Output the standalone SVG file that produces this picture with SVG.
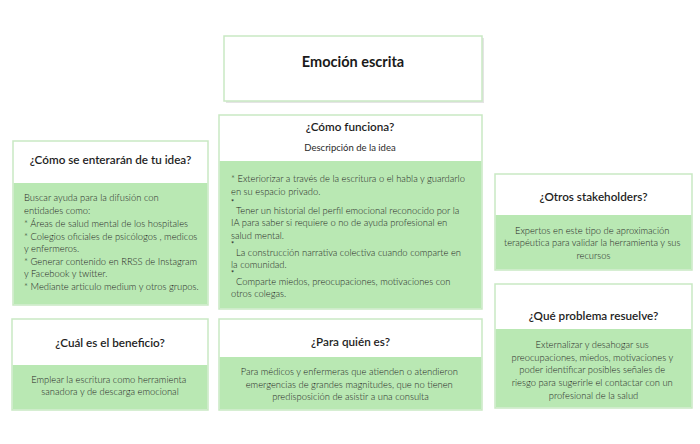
<svg xmlns="http://www.w3.org/2000/svg" width="700" height="444" viewBox="0 0 700 444">
<style>
.box{fill:#ffffff;stroke:#c9e9c3;stroke-width:1.5}
.fill{fill:#b9e8b3}
.hd{font-family:Lato,"Liberation Sans",sans-serif;font-size:11.7px;font-weight:600;fill:#1e1e1e;text-anchor:middle}
.tt{font-family:Lato,"Liberation Sans",sans-serif;font-size:14.5px;font-weight:700;fill:#1a1a1a;text-anchor:middle}
.bd{font-family:Lato,"Liberation Sans",sans-serif;font-size:9.4px;font-weight:300;fill:#262626}
.ast{font-family:Lato,"Liberation Sans",sans-serif;font-size:7.5px;fill:#262626}
.c{text-anchor:middle}
.sub{font-family:Lato,"Liberation Sans",sans-serif;font-size:9.5px;fill:#2a2a2a;text-anchor:middle}
</style>
<rect width="700" height="444" fill="#ffffff"/>
<g id="connectors"/>
<g id="title">
<rect x="226" y="38" width="258" height="65" fill="#e4e4e4"/>
<rect x="224" y="36" width="258" height="65" class="box"/>
<text x="353" y="67" class="tt">Emoción escrita</text>
</g>
<g id="como-funciona">
<rect x="219" y="115" width="263" height="194" class="box"/>
<rect x="219.75" y="161" width="261.5" height="147.25" class="fill"/>
<text x="350" y="131" class="hd">¿Cómo funciona?</text>
<text x="350" y="151" class="sub">Descripción de la idea</text>
<text class="bd">
<tspan x="231" y="182">* Exteriorizar a través de la escritura o el habla y guardarlo</tspan>
<tspan x="231" y="195">en su espacio privado.</tspan>
<tspan x="236" y="214">Tener un historial del perfil emocional reconocido por la</tspan>
<tspan x="231" y="226">IA para saber si requiere o no de ayuda profesional en</tspan>
<tspan x="231" y="239">salud mental.</tspan>
<tspan x="236" y="256">La construcción narrativa colectiva cuando comparte en</tspan>
<tspan x="231" y="268">la comunidad.</tspan>
<tspan x="236" y="285">Comparte miedos, preocupaciones, motivaciones con</tspan>
<tspan x="231" y="297">otros colegas.</tspan>
</text>
<text class="ast">
<tspan x="231" y="205">*</tspan>
<tspan x="231" y="247">*</tspan>
<tspan x="231" y="276">*</tspan>
</text>
</g>
<g id="enteraran">
<rect x="13" y="141" width="195" height="164" class="box"/>
<rect x="13.75" y="183" width="193.5" height="121.25" class="fill"/>
<text x="110.5" y="164" class="hd">¿Cómo se enterarán de tu idea?</text>
<text class="bd">
<tspan x="24" y="201">Buscar ayuda para la difusión con</tspan>
<tspan x="24" y="214">entidades como:</tspan>
<tspan x="24" y="227">* Áreas de salud mental de los hospitales</tspan>
<tspan x="24" y="240">* Colegios oficiales de psicólogos , medicos</tspan>
<tspan x="24" y="252">y enfermeros.</tspan>
<tspan x="24" y="265">* Generar contenido en RRSS de Instagram</tspan>
<tspan x="24" y="277">y Facebook y twitter.</tspan>
<tspan x="24" y="290">* Mediante articulo medium y otros grupos.</tspan>
</text>
</g>
<g id="stakeholders">
<rect x="495" y="174" width="197" height="96" class="box"/>
<rect x="495.75" y="215" width="195.5" height="54.25" class="fill"/>
<text x="593.5" y="201" class="hd">¿Otros stakeholders?</text>
<text class="bd c">
<tspan x="593.5" y="234">Expertos en este tipo de aproximación</tspan>
<tspan x="593.5" y="246">terapéutica para validar la herramienta y sus</tspan>
<tspan x="593.5" y="259">recursos</tspan>
</text>
</g>
<g id="problema">
<rect x="495" y="284" width="197" height="124" class="box"/>
<rect x="495.75" y="329" width="195.5" height="78.25" class="fill"/>
<text x="593.5" y="320" class="hd">¿Qué problema resuelve?</text>
<text class="bd c">
<tspan x="593.5" y="348">Externalizar y desahogar sus</tspan>
<tspan x="593.5" y="361">preocupaciones, miedos, motivaciones y</tspan>
<tspan x="593.5" y="373">poder identificar posibles señales de</tspan>
<tspan x="593.5" y="386">riesgo para sugerirle el contactar con un</tspan>
<tspan x="593.5" y="399">profesional de la salud</tspan>
</text>
</g>
<g id="beneficio">
<rect x="12" y="319" width="196" height="91" class="box"/>
<rect x="12.75" y="365" width="194.5" height="44.25" class="fill"/>
<text x="110" y="347" class="hd">¿Cuál es el beneficio?</text>
<text class="bd c">
<tspan x="110" y="383">Emplear la escritura como herramienta</tspan>
<tspan x="110" y="395">sanadora y de descarga emocional</tspan>
</text>
</g>
<g id="para-quien">
<rect x="219" y="319" width="263" height="91" class="box"/>
<rect x="219.75" y="357" width="261.5" height="52.25" class="fill"/>
<text x="350.5" y="346" class="hd">¿Para quién es?</text>
<text class="bd c">
<tspan x="350.5" y="375">Para médicos y enfermeras que atienden o atendieron</tspan>
<tspan x="350.5" y="388">emergencias de grandes magnitudes, que no tienen</tspan>
<tspan x="350.5" y="400">predisposición de asistir a una consulta</tspan>
</text>
</g>
</svg>
